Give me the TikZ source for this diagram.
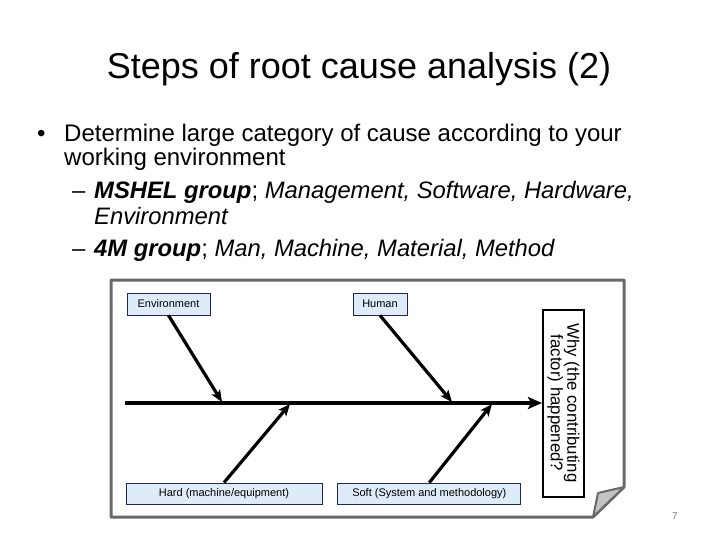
\documentclass[tikz,border=0pt]{standalone}
\usepackage{fontspec}
\setmainfont{Liberation Sans}
\usetikzlibrary{arrows.meta, positioning}
\definecolor{cBoxFill}{RGB}{221,236,248}
\definecolor{cBoxLine}{RGB}{30,40,90}
\definecolor{cFrame}{RGB}{105,105,105}
\definecolor{cFold}{RGB}{195,195,195}
\tikzset{
	catbox/.style   ={rectangle, draw=cBoxLine, fill=cBoxFill, line width=0.8pt, inner sep=0pt, minimum height=22pt, font=\fontsize{11}{13}\selectfont},
	whybox/.style   ={rectangle, draw=black, line width=2pt, fill=white, rotate=-90, align=center, inner sep=0pt, minimum width=187pt, minimum height=41pt, font=\fontsize{16.8}{13.5}\selectfont},
	bone/.style     ={-{Stealth[length=12pt, width=10pt, inset=3pt]}, line width=3.2pt},
	spine/.style    ={-{Stealth[length=14pt, width=12pt, inset=3pt]}, line width=4pt},
	% slide text
	bodyline/.style ={anchor=base west, inner sep=0pt, font=\fontsize{24}{26}\selectfont},
	subline/.style  ={anchor=base west, inner sep=0pt, font=\fontsize{23.8}{24}\selectfont},
}

\begin{document}
\begin{tikzpicture}[x=1pt, y=-1pt, node distance=15pt]
	\useasboundingbox (0,0) rectangle (720,540);
	% title and bullets
	\node[anchor=base, inner sep=0pt, font=\fontsize{36}{40}\selectfont] (title) at (359,79) {Steps of root cause analysis (2)};
	\node[bodyline] (bul) at (37,142) {\textbullet};
	\node[bodyline] (line1) at (64,142) {Determine large category of cause according to your};
	\node[bodyline] (line2) at (64,166) {working environment};
	\node[subline] (dash1) at (72,199) {--};
	\node[subline] (line3) at (94,199) {\textbf{\textit{MSHEL group}}; \textit{Management, Software, Hardware,}};
	\node[subline] (line4) at (94,225) {\textit{Environment}};
	\node[subline] (dash2) at (72,256) {--};
	\node[subline] (line5) at (94,256) {\textbf{\textit{4M group}}; \textit{Man, Machine, Material, Method}};
	% paper sheet
	\draw[cFrame, line width=3pt, line join=round] (111,280) -- (624,280) -- (624,487) -- (593,517) -- (111,517) -- cycle;
	\draw[cFrame, fill=cFold, line width=2pt, line join=round] (593,517) -- (598,493) -- (624,487) -- cycle;
	% fishbone
	\node[catbox, minimum width=83pt] (env) at (168.5,304) {Environment};
	\node[catbox, minimum width=54pt] (human) at (380,304) {Human};
	\node[catbox, minimum width=196pt, minimum height=21pt] (hard) at (224,493.5) {Hard (machine/equipment)};
	\node[catbox, minimum width=183pt, minimum height=21pt, right=of hard] (soft) {Soft (System and methodology)};
	\node[whybox] (why) at (563.5,403) {Why (the contributing\\factor) happened?};
	\coordinate (tail) at (125,403);
	\coordinate (envtip) at (222,402);
	\coordinate (humantip) at (452,402);
	\coordinate (hardtip) at (290,404);
	\coordinate (softtip) at (492,404);
	\draw[spine] (tail) -- (why);
	\draw[bone] (env.south) -- (envtip);
	\draw[bone] (human.south) -- (humantip);
	\draw[bone] (hard.north) -- (hardtip);
	\draw[bone] (soft.north) -- (softtip);
	\node[text=gray, font=\fontsize{10}{12}\selectfont] (pageno) at (675,516) {7};
\end{tikzpicture}
\end{document}
